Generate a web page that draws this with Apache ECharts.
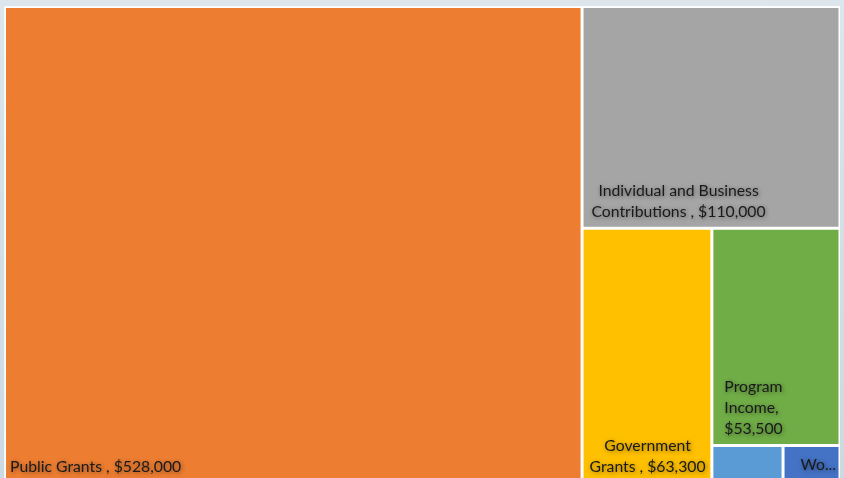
<!DOCTYPE html>
<html>
<head>
<meta charset="utf-8">
<style>
  html, body { margin: 0; padding: 0; }
  body {
    width: 844px; height: 478px; overflow: hidden;
    background: linear-gradient(180deg, #dde6ec 0%, #d4dfe6 40%, #cdd9e1 100%);
  }
  #chart { width: 844px; height: 478px; }
</style>
<script src="https://cdn.jsdelivr.net/npm/echarts@6/dist/echarts.min.js"></script>
</head>
<body>
<div id="chart"></div>
<script>
// revenue sources (Excel treemap, Office palette order)
const categories = ['Other', 'Public Grants ', 'Individual and Business Contributions ', 'Government Grants ', 'Workshops', 'Program Income'];
const amounts = [5000, 528000, 110000, 63300, 4000, 53500];
const palette = ['#5B9BD5', '#ED7D31', '#A5A5A5', '#FFC000', '#4472C4', '#70AD47'];

const money = v => '$' + v.toLocaleString('en-US');

const labelBase = {
  show: true,
  fontFamily: 'Lato',
  fontSize: 15.75,
  lineHeight: 21,
  color: '#1a1a1a',
  textShadowColor: 'rgba(0,0,0,0.45)',
  textShadowBlur: 4,
  textShadowOffsetX: 1,
  textShadowOffsetY: 1,
  verticalAlign: 'top',
  padding: 0
};

// label placement for each tile (bottom of tile, like Excel), text built from the data
const labels = [
  { show: false },
  { position: [4, '100%'], offset: [0, -24], align: 'left',
    formatter: p => p.name + ', ' + money(p.value) },
  { position: [95, '100%'], offset: [0, -46], align: 'center',
    formatter: p => 'Individual and Business\nContributions , ' + money(p.value) },
  { position: [64, '100%'], offset: [0, -45], align: 'center',
    formatter: p => 'Government\nGrants , ' + money(p.value) },
  { position: [16, '100%'], offset: [0, -26], align: 'left', padding: [0, 14, 0, 0],
    formatter: p => p.name },
  { position: [11, '100%'], offset: [0, -68], align: 'left',
    formatter: p => 'Program\nIncome,\n' + money(p.value) }
];

function leaf(i) {
  return {
    name: categories[i],
    value: amounts[i],
    itemStyle: { color: palette[i], borderWidth: 1.5, borderColor: '#fff' },
    label: Object.assign({}, labelBase, labels[i])
  };
}
function group(children) {
  return {
    value: children.reduce((s, c) => s + c.value, 0),
    children: children,
    itemStyle: { borderWidth: 0, gapWidth: 0, borderColor: '#fff' }
  };
}

// nesting so the squarified tiles land where Excel put them
const small = group([leaf(0), leaf(4)]);
const greenCol = group([leaf(5), small]);
const lower = group([leaf(3), greenCol]);
const rightCol = group([leaf(2), lower]);

let myChart = echarts.init(document.getElementById('chart'));
myChart.setOption({
  backgroundColor: 'transparent',
  animation: false,
  series: [{
    type: 'treemap',
    left: 4.5,
    top: 6.5,
    width: 835.5,
    height: 475.5,
    sort: false,
    squareRatio: 0.9,
    roam: false,
    nodeClick: false,
    breadcrumb: { show: false },
    itemStyle: { borderWidth: 0, gapWidth: 0, borderColor: '#fff' },
    upperLabel: { show: false },
    label: labelBase,
    data: [leaf(1), rightCol]
  }]
});
</script>
</body>
</html>
